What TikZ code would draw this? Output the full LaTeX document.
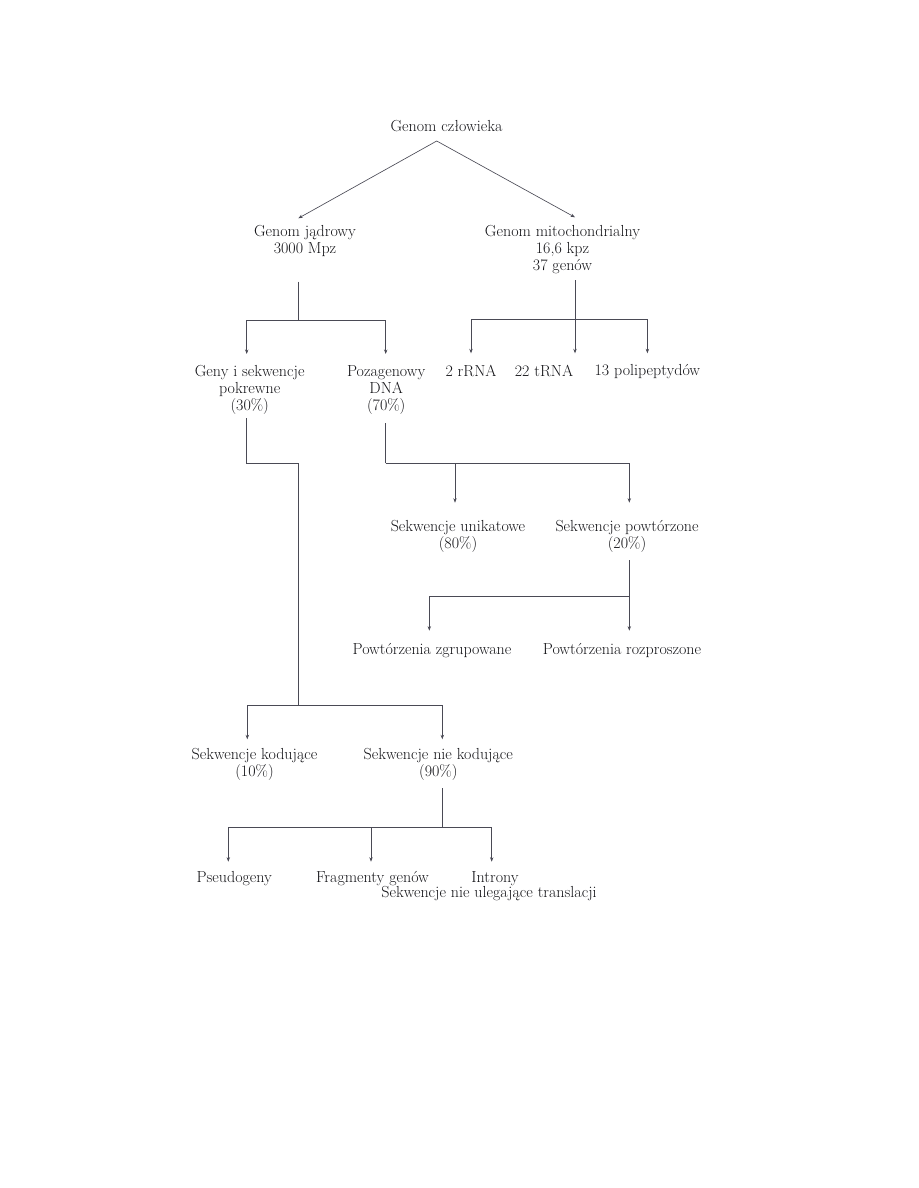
\documentclass[tikz,border=0pt]{standalone}
\usepackage{fontspec}
\usepackage{tikz}
\usetikzlibrary{arrows.meta,positioning}
\definecolor{inkgray}{HTML}{141418}
\definecolor{linegray}{HTML}{4A4A55}
\tikzset{
  lbl/.style={align=center,inner xsep=0pt,anchor=north,text=inkgray},
  link/.style={line width=0.65pt,draw=linegray},
  arrow/.style={-{Stealth[length=4.5pt,width=3.4pt]},line width=0.65pt,draw=linegray}
}
\begin{document}
\begin{tikzpicture}[x=1pt,y=-1pt,font=\fontsize{16}{17}\selectfont]
\useasboundingbox (0,0) rectangle (918,1188);
\node[lbl,anchor=base](czlowiek) at (446.5,131.7) {Genom człowieka};
\node[lbl,inner ysep=6.6pt](jadro) at (305,218.3) {Genom jądrowy\\3000 Mpz};
\node[lbl,inner ysep=7.6pt](mito) at (562.5,217.3) {Genom mitochondrialny\\16,6 kpz\\37 genów};
\node[lbl,inner ysep=11.6pt](geny) at (249.7,354) {Geny i sekwencje\\pokrewne\\(30\%)};
\node[lbl,inner ysep=11.6pt](poza) at (386.2,354) {Pozagenowy\\DNA\\(70\%)};
\node[lbl,inner ysep=11.3pt](rrna) at (471,353.3) {2 rRNA};
\node[lbl,inner ysep=11.3pt](trna) at (544,353.3) {22 tRNA};
\node[lbl,inner ysep=11.3pt](poli) at (647.4,353.3) {13 polipeptydów};
\node[lbl,inner ysep=17.9pt](unik) at (458,502.7) {Sekwencje unikatowe\\(80\%)};
\node[lbl,inner ysep=17.9pt](powt) at (627,502.7) {Sekwencje powtórzone\\(20\%)};
\node[lbl,inner ysep=12.9pt](zgrup) at (432,630.7) {Powtórzenia zgrupowane};
\node[lbl,inner ysep=12.9pt](rozpr) at (622,630.7) {Powtórzenia rozproszone};
\node[lbl,inner ysep=8.6pt](kod) at (254.5,739.3) {Sekwencje kodujące\\(10\%)};
\node[lbl,inner ysep=8.6pt](niekod) at (438.3,739.3) {Sekwencje nie kodujące\\(90\%)};
\node[lbl,inner ysep=9.9pt](pseudo) at (234.3,861.7) {Pseudogeny};
\node[lbl,inner ysep=9.9pt](fragm) at (372.5,861.7) {Fragmenty genów};
\node[lbl,inner ysep=9.9pt](intron) at (495,861.7) {Introny};
\node[lbl,anchor=base](transl) at (489,897) {Sekwencje nie ulegające translacji};
\coordinate (apex) at (436.7,141);
\coordinate (nucTop) at (298.3,281.7);
\coordinate (nucJoin) at (298.3,320);
\coordinate (mitoTop) at (575,280);
\coordinate (mitoJoin) at (575,319);
\coordinate (genyOut) at (246,418.3);
\coordinate (genyJog) at (298.3,463.3);
\coordinate (codeJoin) at (298.3,705);
\coordinate (pozaOut) at (385.7,423);
\coordinate (pozaJoin) at (385.7,463.3);
\coordinate (powtOut) at (629.3,560);
\coordinate (powtJoin) at (629.3,596);
\coordinate (niekodOut) at (442.7,788.3);
\coordinate (niekodJoin) at (442.7,827.3);
\draw[arrow](apex) -- ([xshift=-6.7pt]jadro.north);
\draw[arrow](apex) -- ([xshift=12.5pt]mito.north);
\draw[link](nucTop) -- (nucJoin);
\draw[arrow](nucJoin) -| ([xshift=-3pt]geny.north);
\draw[arrow](nucJoin) -| ([xshift=-0.5pt]poza.north);
\draw[arrow](mitoTop) -- (mitoTop |- trna.north);
\draw[arrow](mitoJoin) -| (rrna.north);
\draw[arrow](mitoJoin) -| (poli.north);
\draw[link](genyOut) |- (genyJog) -- (codeJoin);
\draw[arrow](codeJoin) -| ([xshift=-7.2pt]kod.north);
\draw[arrow](codeJoin) -| ([xshift=4pt]niekod.north);
\draw[link](pozaOut) -- (pozaJoin);
\draw[arrow](pozaJoin) -| ([xshift=-3pt]unik.north);
\draw[arrow](pozaJoin) -| ([xshift=2.3pt]powt.north);
\draw[link](powtOut) -- (powtJoin);
\draw[arrow](powtJoin) -| ([xshift=-2.7pt]zgrup.north);
\draw[arrow](powtJoin) -- (powtJoin |- rozpr.north);
\draw[link](niekodOut) -- (niekodJoin);
\draw[arrow](niekodJoin) -| ([xshift=-6pt]pseudo.north);
\draw[arrow](niekodJoin) -| ([xshift=-1.5pt]fragm.north);
\draw[arrow](niekodJoin) -| ([xshift=-3.3pt]intron.north);
\end{tikzpicture}
\end{document}
